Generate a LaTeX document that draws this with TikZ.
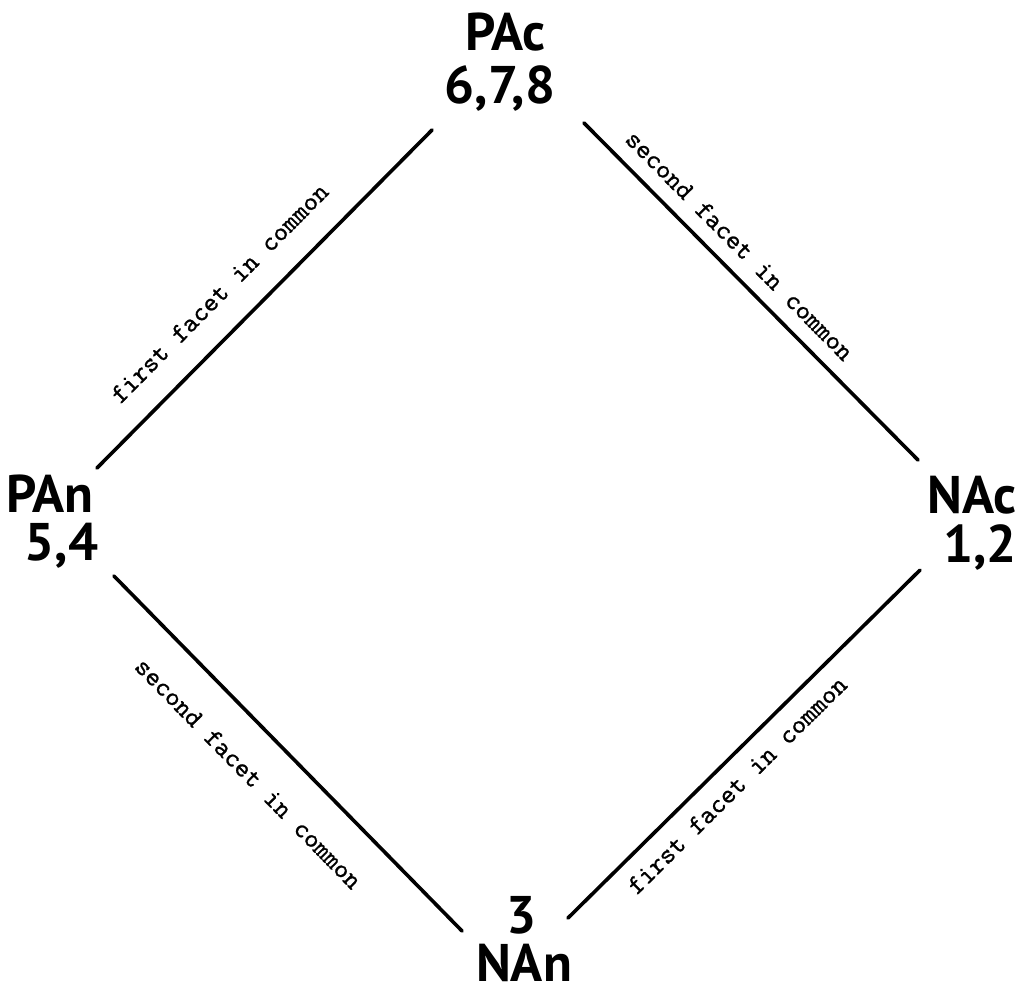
\documentclass[tikz,border=0pt]{standalone}
\usepackage{fontspec}
\newfontfamily\vfont{PT Sans}
\newfontfamily\lfont{lmmono10-regular}[Extension=.otf, FakeBold=0.9]
\begin{document}
\begin{tikzpicture}[x=1pt,y=-1pt]
\tikzset{
  vtx/.style={font=\vfont\bfseries\fontsize{53}{53}\selectfont, anchor=base, inner sep=0pt},
  edge/.style={line width=3.6pt, line cap=round},
  lab/.style={font=\lfont\fontsize{27}{27}\selectfont, sloped, inner sep=0pt}
}
\useasboundingbox (0,0) rectangle (1029,986);
% diamond vertices
\coordinate (vt) at (511.5,49.8);
\coordinate (vl) at (52.3,513.1);
\coordinate (vr) at (974.1,516.6);
\coordinate (vb) at (507.7,977.6);
% vertex texts
\node[vtx] (pacname) at (505.5,50) {PAc};
\node[vtx] (pacnum) at (500,103) {6,7,8};
\node[vtx] (panname) at (50,512) {PAn};
\node[vtx] (pannum) at (61.5,560) {5,4};
\node[vtx] (nacname) at (972,513) {NAc};
\node[vtx] (nacnum) at (980,562) {1,2};
\node[vtx] (nannum) at (522,933) {3};
\node[vtx] (nanname) at (524,981) {NAn};
% connectors
\draw[edge, shorten <=63.5pt, shorten >=112.9pt] (vl) -- node[lab, pos=0.42, above=26pt] (l1) {first facet in common} (vt);
\draw[edge, shorten <=103pt, shorten >=79.7pt] (vt) -- node[lab, pos=0.456, above=14pt] (l2) {second facet in common} (vr);
\draw[edge, shorten <=88.1pt, shorten >=65.3pt] (vl) -- node[lab, pos=0.497, below=32pt] (l3) {second facet in common} (vb);
\draw[edge, shorten <=84.8pt, shorten >=76pt] (vb) -- node[lab, pos=0.455, below=14pt] (l4) {first facet in common} (vr);
\end{tikzpicture}
\end{document}
